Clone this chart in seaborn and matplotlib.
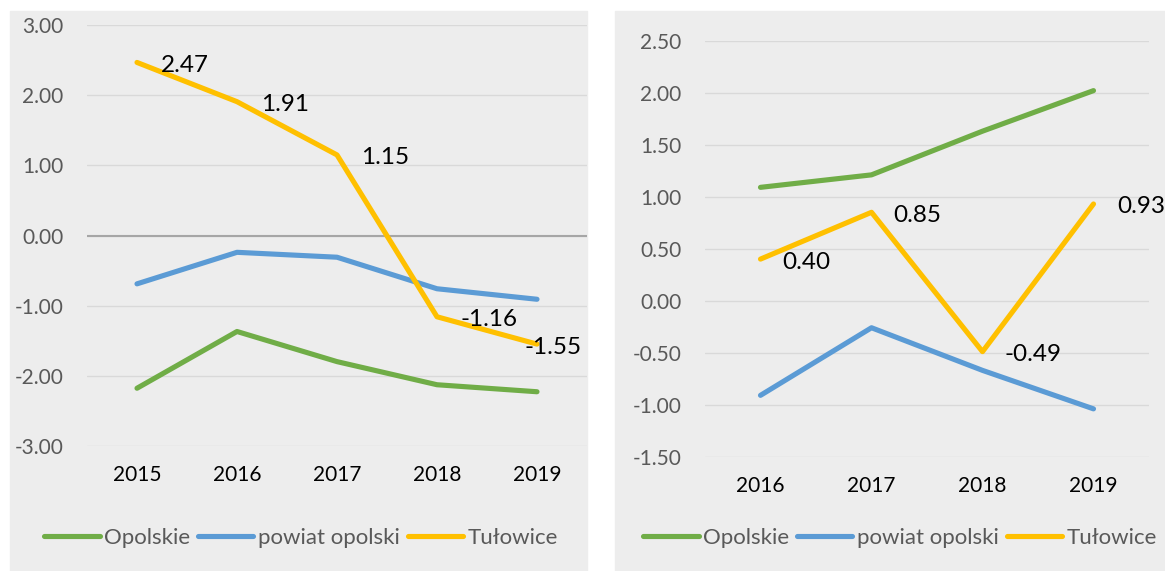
import pandas as pd
import matplotlib
matplotlib.use("Agg")
import matplotlib.pyplot as plt
import seaborn as sns
from matplotlib.patches import Rectangle
from matplotlib.ticker import FormatStrFormatter

sns.set_theme(style="white")
plt.rcParams['font.family'] = ['Lato', 'DejaVu Sans']

# left chart
years_left = [2015, 2016, 2017, 2018, 2019]
opolskie_left = [-2.18, -1.37, -1.80, -2.13, -2.23]
powiat_left = [-0.69, -0.24, -0.31, -0.76, -0.91]
tulowice_left = [2.47, 1.91, 1.15, -1.16, -1.55]

# right chart
years_right = [2016, 2017, 2018, 2019]
opolskie_right = [1.09, 1.21, 1.63, 2.02]
powiat_right = [-0.91, -0.26, -0.67, -1.04]
tulowice_right = [0.40, 0.85, -0.49, 0.93]

series_names = ["Opolskie", "powiat opolski", "Tułowice"]
colors = ["#70AD47", "#5B9BD5", "#FFC000"]

BG = "#EDEDED"
W, H = 1165, 571


def long_df(years, a, b, c):
    rows = []
    for name, vals in zip(series_names, [a, b, c]):
        for y, v in zip(years, vals):
            rows.append({"year": y, "value": v, "series": name})
    return pd.DataFrame(rows)


def draw_panel(fig, panel_px, axes_px, df, years, labels_vals, ylim, yticks,
               zero_dark, label_offsets, legend_cx):
    # panel background
    x0, y0, x1, y1 = panel_px
    fig.patches.append(Rectangle((x0 / W, 1 - y1 / H), (x1 - x0) / W, (y1 - y0) / H,
                                 transform=fig.transFigure, color=BG, zorder=-5))
    ax0, ay0, ax1, ay1 = axes_px
    ax = fig.add_axes([ax0 / W, 1 - ay1 / H, (ax1 - ax0) / W, (ay1 - ay0) / H])
    ax.set_facecolor(BG)

    sns.lineplot(data=df, x="year", y="value", hue="series", hue_order=series_names,
                 palette=colors, linewidth=3.7, ax=ax, sort=False,
                 solid_capstyle="round", zorder=3)

    ax.set_xlim(years[0] - 0.5, years[-1] + 0.5)
    ax.set_ylim(*ylim)
    ax.set_xticks(years)
    ax.set_xticklabels([str(y) for y in years])
    ax.set_yticks(yticks)
    ax.yaxis.set_major_formatter(FormatStrFormatter('%.2f'))
    ax.set_xlabel("")
    ax.set_ylabel("")
    for s in ax.spines.values():
        s.set_visible(False)
    ax.grid(axis="y", color="#D9D9D9", linewidth=1.0, zorder=0)
    ax.grid(axis="x", visible=False)
    ax.set_axisbelow(True)
    if zero_dark:
        ax.axhline(0, color="#A6A6A6", linewidth=1.5, zorder=1)
    ax.tick_params(axis="y", length=0, pad=17, labelsize=15, labelcolor="#595959")
    ax.tick_params(axis="x", length=0, pad=14, labelsize=15, labelcolor="#000000")

    for yr, v, off in zip(years, labels_vals, label_offsets):
        ax.annotate(f"{v:.2f}", (yr, v), xytext=(off, -3), textcoords="offset pixels",
                    ha="left", va="center", fontsize=17.5, color="black",
                    annotation_clip=False, zorder=5)

    handles, labs = ax.get_legend_handles_labels()
    ax.get_legend().remove()
    fig.legend(handles, labs, loc="center", bbox_to_anchor=(legend_cx / W, 1 - 538 / H),
               ncol=3, frameon=False, fontsize=16, handlelength=2.5,
               handletextpad=0.2, columnspacing=0.35, labelcolor="#595959")
    return ax


fig = plt.figure(figsize=(W / 100, H / 100), dpi=100)
fig.patch.set_facecolor("white")

df_left = long_df(years_left, opolskie_left, powiat_left, tulowice_left)
draw_panel(fig, (10, 11, 587, 571), (87, 25.3, 587, 445.7), df_left, years_left,
           tulowice_left, (-3, 3), [-3, -2, -1, 0, 1, 2, 3], True,
           [24, 24, 24, 24, -13], 301)

df_right = long_df(years_right, opolskie_right, powiat_right, tulowice_right)
draw_panel(fig, (615, 11, 1165, 571), (705, 40.7, 1149, 456.7), df_right, years_right,
           tulowice_right, (-1.5, 2.5), [-1.5, -1.0, -0.5, 0, 0.5, 1.0, 1.5, 2.0, 2.5],
           False, [22, 22, 22, 24], 900)

fig.savefig("out.png", dpi=100, facecolor="white")
